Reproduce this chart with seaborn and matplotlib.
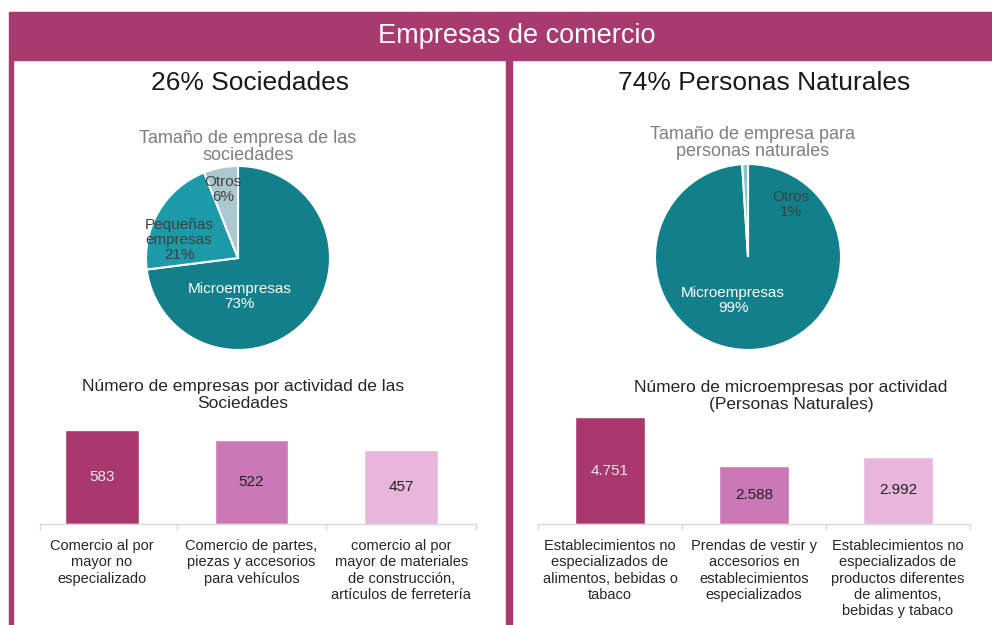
import matplotlib
matplotlib.use("Agg")
import matplotlib.pyplot as plt
from matplotlib.patches import Rectangle
import seaborn as sns
import pandas as pd

sns.set_theme(style="white")
plt.rcParams["font.family"] = ["Liberation Sans", "DejaVu Sans"]

# ---- data ----
header_title = "Empresas de comercio"
left_title = "26% Sociedades"
right_title = "74% Personas Naturales"

soc_size_labels = ["Microempresas", "Pequeñas\nempresas", "Otros"]
soc_size_pct = [73, 21, 6]

nat_size_labels = ["Microempresas", "Otros"]
nat_size_pct = [99, 1]

soc_activities = [
    "Comercio al por\nmayor no\nespecializado",
    "Comercio de partes,\npiezas y accesorios\npara vehículos",
    "comercio al por\nmayor de materiales\nde construcción,\nartículos de ferretería",
]
soc_counts = [583, 522, 457]

nat_activities = [
    "Establecimientos no\nespecializados de\nalimentos, bebidas o\ntabaco",
    "Prendas de vestir y\naccesorios en\nestablecimientos\nespecializados",
    "Establecimientos no\nespecializados de\nproductos diferentes\nde alimentos,\nbebidas y tabaco",
]
nat_counts = [4751, 2588, 2992]

# ---- styling ----
W, H = 992, 625
MAGENTA = "#A83A6F"
BAR_COLORS = ["#A8386D", "#CB78B6", "#E7B6DA"]
VALUE_COLORS = ["#F3E3EC", "#222222", "#222222"]

fig = plt.figure(figsize=(W / 100, H / 100), dpi=100)
fig.patch.set_facecolor("white")


def fx(x):
    return x / W


def fy(y):
    return 1 - y / H


def box(x0, y0, x1, y1):
    """Figure-fraction rect [left, bottom, width, height] from pixel corners."""
    return [fx(x0), fy(y1), (x1 - x0) / W, (y1 - y0) / H]


# frame: header band, left edge and middle divider
fig.patches.append(Rectangle((fx(9), fy(60)), (W - 9) / W, 48 / H,
                             transform=fig.transFigure, color=MAGENTA, zorder=0))
fig.patches.append(Rectangle((fx(9), 0), 4 / W, fy(60),
                             transform=fig.transFigure, color=MAGENTA, zorder=0))
fig.patches.append(Rectangle((fx(506), 0), 6 / W, fy(60),
                             transform=fig.transFigure, color=MAGENTA, zorder=0))

fig.text(fx(517), fy(36), header_title, ha="center", va="center",
         color="white", fontsize=19.5)
fig.text(fx(250), fy(83), left_title, ha="center", va="center",
         color="#1a1a1a", fontsize=19)
fig.text(fx(764), fy(83), right_title, ha="center", va="center",
         color="#1a1a1a", fontsize=19)

fig.text(fx(248), fy(147), "Tamaño de empresa de las\nsociedades", ha="center",
         va="center", color="#7F7F7F", fontsize=13, linespacing=1.05)
fig.text(fx(753), fy(143), "Tamaño de empresa para\npersonas naturales", ha="center",
         va="center", color="#7F7F7F", fontsize=13, linespacing=1.05)


# ---- pies ----
def draw_pie(rect, values, colors, labels, label_pos, label_colors):
    ax = fig.add_axes(rect)
    ax.pie(values, colors=colors, startangle=90, counterclock=False,
           wedgeprops=dict(edgecolor="white", linewidth=1.5))
    ax.set_xlim(-1, 1)
    ax.set_ylim(-1, 1)
    ax.set_aspect("equal")
    ax.axis("off")
    for lab, v, (dx, dy), c in zip(labels, values, label_pos, label_colors):
        ax.text(dx, dy, f"{lab}\n{v}%", ha="center", va="center", color=c,
                fontsize=11, linespacing=1.1)
    return ax


draw_pie(box(146, 166, 330, 350), soc_size_pct,
         ["#11808A", "#1C9AA8", "#A9C8D0"], soc_size_labels,
         [(0.02, -0.42), (-0.64, 0.2), (-0.16, 0.74)],
         ["white", "#404040", "#404040"])

draw_pie(box(655, 164, 841, 350), nat_size_pct,
         ["#11808A", "#7FC6D0"], nat_size_labels,
         [(-0.16, -0.47), (0.46, 0.56)],
         ["white", "#404040"])


# ---- bars ----
def draw_bars(rect, cats, vals, ymax, title_xy, title, fmt, axis_start):
    ax = fig.add_axes(rect)
    df = pd.DataFrame({"actividad": cats, "empresas": vals})
    sns.barplot(data=df, x="actividad", y="empresas", hue="actividad",
                palette=BAR_COLORS, legend=False, width=0.49, saturation=1, ax=ax)
    ax.set_ylim(0, ymax)
    ax.set_xlim(-0.5, len(cats) - 0.5)
    for cont, v, c in zip(ax.containers, vals, VALUE_COLORS):
        ax.bar_label(cont, labels=[fmt(v)], label_type="center",
                     color=c, fontsize=11)
    for side in ("top", "right", "left"):
        ax.spines[side].set_visible(False)
    ax.spines["bottom"].set_color("#D9D9D9")
    ax.spines["bottom"].set_linewidth(1)
    ax.spines["bottom"].set_bounds(axis_start, len(cats) - 0.5)
    ax.set_yticks([])
    ax.set_xlabel("")
    ax.set_ylabel("")
    ax.set_xticks(range(len(cats)))
    ax.set_xticklabels(cats, fontsize=10.5, color="#262626", linespacing=1.2,
                       va="top")
    ax.tick_params(axis="x", which="major", length=0, pad=11)
    ax.set_xticks([axis_start] + [i + 0.5 for i in range(len(cats))], minor=True)
    ax.tick_params(axis="x", which="minor", length=4, color="#D9D9D9",
                   width=1, direction="out", bottom=True)
    ax.patch.set_alpha(0)
    fig.text(fx(title_xy[0]), fy(title_xy[1]), title, ha="center", va="center",
             color="#262626", fontsize=12.5, linespacing=1.2)
    return ax


draw_bars(box(27, 414, 476, 524), soc_activities, soc_counts, 110 / 0.161,
          (243, 395), "Número de empresas por actividad de las\nSociedades",
          lambda v: f"{v}", -0.41)

draw_bars(box(538, 404, 970, 524), nat_activities, nat_counts, 120 / 0.0225,
          (791, 396), "Número de microempresas por actividad\n(Personas Naturales)",
          lambda v: f"{v:,}".replace(",", "."), -0.5)

fig.savefig("out.png", dpi=100, facecolor="white")
